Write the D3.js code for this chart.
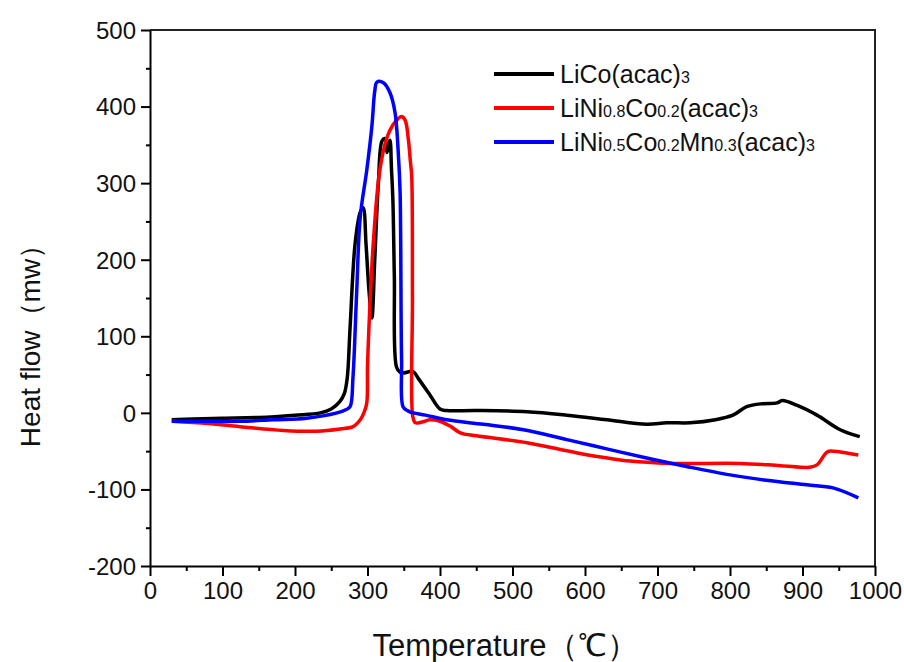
<!DOCTYPE html>
<html>
<head>
<meta charset="utf-8">
<script src="https://cdn.jsdelivr.net/npm/d3@7"></script>
<style>
  body { margin: 0; background: #fff; }
  svg text { font-family: "Liberation Sans", Arial, sans-serif; fill: #111; }
</style>
</head>
<body>
<div id="chart"></div>
<script>
// ******* data *******
var xTicks = [0, 100, 200, 300, 400, 500, 600, 700, 800, 900, 1000];
var yTicks = [-200, -100, 0, 100, 200, 300, 400, 500];

var tempLiCo = [30, 60, 100, 150, 200, 235, 250, 262, 268, 272, 276, 283, 290, 294, 298, 302, 306, 310, 315, 320, 324, 327, 331, 333, 335, 337, 340, 345, 349, 363, 370, 385, 400, 409, 450, 520, 575, 630, 685, 713, 745, 780, 804, 823, 845, 865, 872, 892, 920, 952, 979];
var hfLiCo = [-9, -8, -7, -6, -3, 0, 5, 15, 25, 45, 112, 222, 262, 268, 220, 160, 124, 200, 300, 355, 358, 340, 356, 320, 278, 180, 60, 53, 52, 54, 45, 25, 5, 3, 3, 1.5, -3, -9, -15, -13, -13, -9, -3, 8, 12, 13, 16, 10, -3, -22, -31];

var tempNiCo = [30, 80, 124, 184, 230, 262, 280, 290, 295, 299, 300, 302, 308, 317, 327, 335, 342, 347, 352, 356, 359, 361, 362, 362.5, 366, 375, 386, 400, 415, 428, 450, 520, 593, 662, 717, 814, 870, 910, 920, 934, 942, 977];
var hfNiCo = [-11, -14, -18, -23, -24, -21, -18, -9, 0, 13, 60, 112, 222, 317, 360, 376, 384, 387, 382, 360, 330, 308, 150, -5, -13, -12, -9, -11, -18, -26, -30, -39, -53, -63, -66, -66, -69, -71, -68, -51, -50, -55];

var tempNiCoMn = [30, 80, 124, 170, 216, 258, 270, 276, 280, 285, 290, 299, 306, 310, 313, 322, 331, 338, 343, 345, 347, 349, 355, 359, 380, 409, 460, 515, 575, 630, 685, 740, 800, 850, 906, 942, 977];
var hfNiCoMn = [-11, -11, -11, -9, -7, 0, 4, 8, 47, 156, 256, 317, 374, 420, 432, 431, 418, 392, 330, 287, 69, 8, 3, 1, -3, -9, -15, -22, -35, -47, -59, -70, -81, -88, -94, -98, -111];

var seriesNames = ["LiCo(acac)3", "LiNi0.8Co0.2(acac)3", "LiNi0.5Co0.2Mn0.3(acac)3"];
var colour = ["#000000", "#ff0000", "#0000ff"];

// ******* chart set up *******
var w = 904, h = 662;
var svg = d3.select("#chart").append("svg").attr("width", w).attr("height", h);

var x = d3.scaleLinear().domain([0, 1000]).range([150, 875]);
var y = d3.scaleLinear().domain([-200, 500]).range([566, 30]);

// frame (top + right)
svg.append("path")
  .attr("d", `M${x(0)},${y(500)}H${x(1000)}V${y(-200)}`)
  .attr("fill", "none").attr("stroke", "#222").attr("stroke-width", 2);

// minor ticks
svg.append("g")
  .attr("transform", `translate(0,${y(-200)})`)
  .call(d3.axisBottom(x).tickValues(d3.range(50, 1000, 100)).tickSize(5).tickFormat(""))
  .call(g => g.select(".domain").remove())
  .selectAll("line").attr("stroke-width", 2);
svg.append("g")
  .attr("transform", `translate(${x(0)},0)`)
  .call(d3.axisLeft(y).tickValues(d3.range(-150, 500, 100)).tickSize(4).tickFormat(""))
  .call(g => g.select(".domain").remove())
  .selectAll("line").attr("stroke-width", 2);

// major axes (plain hyphen minus, no thousands comma)
var xAxis = svg.append("g")
  .attr("transform", `translate(0,${y(-200)})`)
  .call(d3.axisBottom(x).tickValues(xTicks).tickSize(10).tickSizeOuter(0).tickPadding(6)
    .tickFormat(d => String(d)));
var yAxis = svg.append("g")
  .attr("transform", `translate(${x(0)},0)`)
  .call(d3.axisLeft(y).tickValues(yTicks).tickSize(9).tickSizeOuter(0).tickPadding(5)
    .tickFormat(d => String(d)));

[xAxis, yAxis].forEach(a => {
  a.select(".domain").attr("stroke", "#000").attr("stroke-width", 2);
  a.selectAll(".tick line").attr("stroke", "#000").attr("stroke-width", 2);
});
xAxis.selectAll("text").style("font-size", "24px").attr("fill", "#111")
  .attr("font-family", "Liberation Sans, Arial, sans-serif");
yAxis.selectAll("text").style("font-size", "24px").attr("fill", "#111")
  .attr("font-family", "Liberation Sans, Arial, sans-serif").attr("dy", "0.35em");

// axis titles
svg.append("text")
  .attr("x", 505).attr("y", 656)
  .attr("text-anchor", "middle")
  .style("font-size", "31px")
  .text("Temperature（℃）");

svg.append("text")
  .attr("transform", "translate(40,339) rotate(-90)")
  .attr("text-anchor", "middle")
  .style("font-size", "28px")
  .text("Heat flow（mw）");

// ******* curves *******
var curves = [
  { t: tempLiCo, v: hfLiCo },
  { t: tempNiCo, v: hfNiCo },
  { t: tempNiCoMn, v: hfNiCoMn }
];
var line = d3.line()
  .x(d => x(d[0]))
  .y(d => y(d[1]))
  .curve(d3.curveCatmullRom.alpha(0.5));

curves.forEach((c, i) => {
  svg.append("path")
    .datum(c.t.map((t, j) => [t, c.v[j]]))
    .attr("d", line)
    .attr("fill", "none")
    .attr("stroke", colour[i])
    .attr("stroke-width", 3.5)
    .attr("stroke-linejoin", "round");
});

// ******* legend *******
// split each name into normal text and subscript-looking numbers
function legendParts(name) {
  var parts = [];
  var re = /(\d+(?:\.\d+)?)/g, last = 0, m;
  while ((m = re.exec(name)) !== null) {
    if (m.index > last) parts.push({ s: name.slice(last, m.index), sub: false });
    parts.push({ s: m[0], sub: true });
    last = m.index + m[0].length;
  }
  if (last < name.length) parts.push({ s: name.slice(last), sub: false });
  return parts;
}

seriesNames.forEach((name, i) => {
  var ly = 74 + i * 34;
  svg.append("line")
    .attr("x1", 494).attr("x2", 554)
    .attr("y1", ly).attr("y2", ly)
    .attr("stroke", colour[i]).attr("stroke-width", 4);
  var t = svg.append("text").attr("x", 560).attr("y", ly + 9);
  legendParts(name).forEach(p => {
    t.append("tspan")
      .style("font-size", p.sub ? "16px" : "25px")
      .text(p.s);
  });
});
</script>
</body>
</html>
